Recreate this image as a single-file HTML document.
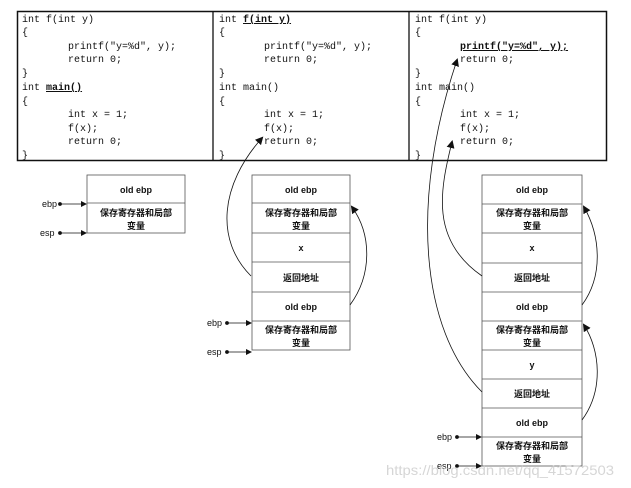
<!DOCTYPE html>
<html><head><meta charset="utf-8"><style>
html,body{margin:0;padding:0;background:#fff;}
svg{display:block;}
.c{font-family:"Liberation Mono",monospace;font-size:10px;fill:#111;}
.b{font-weight:bold;text-decoration:underline;}
.s{font-family:"Liberation Sans","Noto Sans CJK SC",sans-serif;font-size:9px;fill:#111;font-weight:bold;text-anchor:middle;}
.l{font-family:"Liberation Sans",sans-serif;font-size:9px;fill:#111;}
</style></head><body>
<svg width="631" height="488" viewBox="0 0 631 488" xmlns="http://www.w3.org/2000/svg">
<defs><marker id="a" markerWidth="8" markerHeight="8" refX="6" refY="4" orient="auto" markerUnits="userSpaceOnUse"><path d="M0,0 L8,4 L0,8 z" fill="#111"/></marker>
<marker id="t" markerWidth="6" markerHeight="6" refX="5" refY="3" orient="auto" markerUnits="userSpaceOnUse"><path d="M0,0 L6,3 L0,6 z" fill="#111"/></marker></defs>
<rect x="17.5" y="11.5" width="589" height="149" fill="none" stroke="#111" stroke-width="1.5"/>
<line x1="213" y1="11" x2="213" y2="160" stroke="#111" stroke-width="1.3"/>
<line x1="409" y1="11" x2="409" y2="160" stroke="#111" stroke-width="1.3"/>
<g class="c">
<text x="22" y="22">int f(int y)</text><text x="22" y="35">{</text>
<text x="68" y="49">printf("y=%d", y);</text><text x="68" y="62">return 0;</text>
<text x="22" y="76">}</text><text x="22" y="90">int <tspan class="b">main()</tspan></text>
<text x="22" y="104">{</text><text x="68" y="117">int x = 1;</text><text x="68" y="131">f(x);</text>
<text x="68" y="144">return 0;</text><text x="22" y="158">}</text>

<text x="219" y="22">int <tspan class="b">f(int y)</tspan></text><text x="219" y="35">{</text>
<text x="264" y="49">printf("y=%d", y);</text><text x="264" y="62">return 0;</text>
<text x="219" y="76">}</text><text x="219" y="90">int main()</text>
<text x="219" y="104">{</text><text x="264" y="117">int x = 1;</text><text x="264" y="131">f(x);</text>
<text x="264" y="144">return 0;</text><text x="219" y="158">}</text>

<text x="415" y="22">int f(int y)</text><text x="415" y="35">{</text>
<text x="460" y="49" class="b">printf("y=%d", y);</text><text x="460" y="62">return 0;</text>
<text x="415" y="76">}</text><text x="415" y="90">int main()</text>
<text x="415" y="104">{</text><text x="460" y="117">int x = 1;</text><text x="460" y="131">f(x);</text>
<text x="460" y="144">return 0;</text><text x="415" y="158">}</text>
</g>
<g fill="none" stroke="#555" stroke-width="0.8">
<rect x="87" y="175" width="98" height="58"/><line x1="87" y1="203" x2="185" y2="203"/>
<rect x="252" y="175" width="98" height="175"/>
<line x1="252" y1="203" x2="350" y2="203"/><line x1="252" y1="233" x2="350" y2="233"/><line x1="252" y1="262" x2="350" y2="262"/><line x1="252" y1="292" x2="350" y2="292"/><line x1="252" y1="321" x2="350" y2="321"/>
<rect x="482" y="175" width="100" height="291"/>
<line x1="482" y1="204" x2="582" y2="204"/><line x1="482" y1="233" x2="582" y2="233"/><line x1="482" y1="263" x2="582" y2="263"/><line x1="482" y1="292" x2="582" y2="292"/><line x1="482" y1="321" x2="582" y2="321"/><line x1="482" y1="350" x2="582" y2="350"/><line x1="482" y1="379" x2="582" y2="379"/><line x1="482" y1="408" x2="582" y2="408"/><line x1="482" y1="437" x2="582" y2="437"/>
</g>
<g class="s">
<text x="136" y="193">old ebp</text><text x="136" y="216">保存寄存器和局部</text><text x="136" y="229">变量</text>
<text x="301" y="193">old ebp</text><text x="301" y="216">保存寄存器和局部</text><text x="301" y="229">变量</text>
<text x="301" y="251">x</text><text x="301" y="281">返回地址</text><text x="301" y="310">old ebp</text>
<text x="301" y="333">保存寄存器和局部</text><text x="301" y="346">变量</text>
<text x="532" y="193">old ebp</text><text x="532" y="216">保存寄存器和局部</text><text x="532" y="229">变量</text>
<text x="532" y="251">x</text><text x="532" y="281">返回地址</text><text x="532" y="310">old ebp</text>
<text x="532" y="333">保存寄存器和局部</text><text x="532" y="346">变量</text>
<text x="532" y="368">y</text><text x="532" y="397">返回地址</text><text x="532" y="426">old ebp</text>
<text x="532" y="449">保存寄存器和局部</text><text x="532" y="462">变量</text>
</g>
<g class="l"><text x="42" y="207">ebp</text><text x="40" y="236">esp</text>
<text x="207" y="326">ebp</text><text x="207" y="355">esp</text>
<text x="437" y="440">ebp</text><text x="437" y="469">esp</text></g>
<g stroke="#111" stroke-width="0.8" fill="none">
<circle cx="60" cy="204" r="1.5" fill="#111"/><line x1="61" y1="204" x2="86" y2="204" marker-end="url(#t)"/>
<circle cx="60" cy="233" r="1.5" fill="#111"/><line x1="61" y1="233" x2="86" y2="233" marker-end="url(#t)"/>
<circle cx="227" cy="323" r="1.5" fill="#111"/><line x1="228" y1="323" x2="251" y2="323" marker-end="url(#t)"/>
<circle cx="227" cy="352" r="1.5" fill="#111"/><line x1="228" y1="352" x2="251" y2="352" marker-end="url(#t)"/>
<circle cx="457" cy="437" r="1.5" fill="#111"/><line x1="458" y1="437" x2="481" y2="437" marker-end="url(#t)"/>
<circle cx="457" cy="466" r="1.5" fill="#111"/><line x1="458" y1="466" x2="481" y2="466" marker-end="url(#t)"/>
<path d="M251,276 C215,240 220,185 262,138" marker-end="url(#a)"/>
<path d="M350,305 C372,275 372,235 352,207" marker-end="url(#a)"/>
<path d="M482,276 C430,240 440,190 452,142" marker-end="url(#a)"/>
<path d="M482,392 C420,330 410,200 457,60" marker-end="url(#a)"/>
<path d="M582,305 C604,275 600,235 584,207" marker-end="url(#a)"/>
<path d="M582,420 C604,390 600,350 584,325" marker-end="url(#a)"/>
</g>
<text x="386" y="475" font-family="Liberation Sans,sans-serif" font-size="14" fill="#ccc" opacity="0.8" textLength="228" lengthAdjust="spacingAndGlyphs">https://blog.csdn.net/qq_41572503</text>
</svg>
</body></html>
